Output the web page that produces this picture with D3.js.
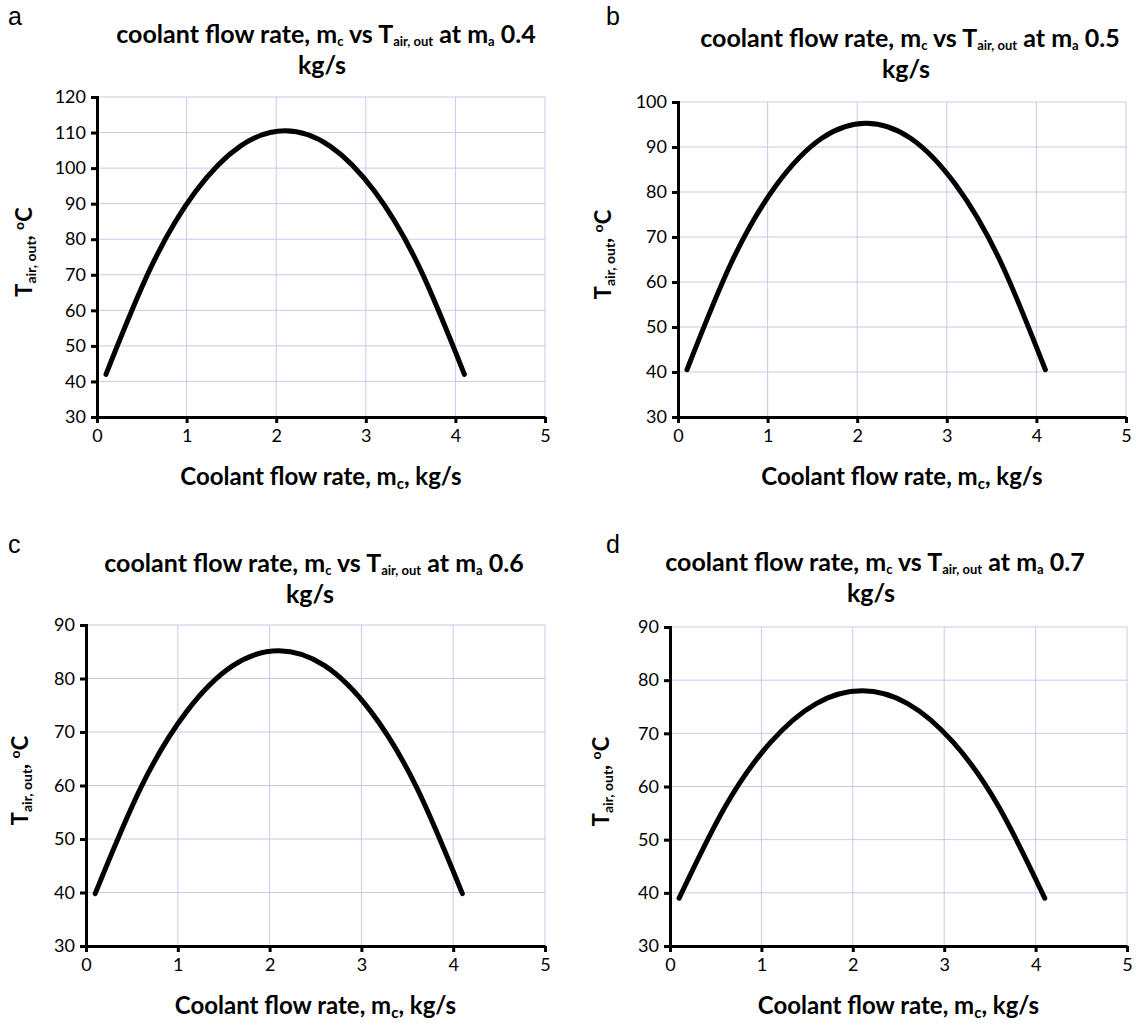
<!DOCTYPE html>
<html>
<head>
<meta charset="utf-8">
<title>Coolant flow rate vs outlet air temperature</title>
<script src="https://d3js.org/d3.v7.min.js"></script>
<style>
  body { margin: 0; background: #fff; }
  svg text { font-family: Lato, "Open Sans", sans-serif; fill: #000; }
  .grid line { stroke: #c9c9ec; stroke-width: 1; }
  .axis path, .axis line { stroke: #000; stroke-width: 3; }
  .axis text { font-size: 18px; }
  .ttl { font-size: 25px; font-weight: bold; }
  .lbl { font-size: 24px; font-weight: bold; }
  .ylbl { font-size: 22px; font-weight: bold; }
  .letter { font-family: "Liberation Sans", Arial, sans-serif; font-size: 25px; }
</style>
</head>
<body>
<div id="chart"></div>
<script>
  // data
  const flowRate = [0.1, 0.6, 1.1, 1.6, 2.1, 2.6, 3.1, 3.6, 4.1];
  const tempA = [42, 72, 93.4, 106.2, 110.5, 106.2, 93.4, 72, 42];
  const tempB = [40.5, 64.5, 81.6, 91.9, 95.3, 91.9, 81.6, 64.5, 40.5];
  const tempC = [39.8, 59.7, 73.9, 82.4, 85.2, 82.4, 73.9, 59.7, 39.8];
  const tempD = [39, 56.1, 68.3, 75.6, 78, 75.6, 68.3, 56.1, 39];
  const xTicks = [0, 1, 2, 3, 4, 5];
  const yTicksA = [30, 40, 50, 60, 70, 80, 90, 100, 110, 120];
  const yTicksB = [30, 40, 50, 60, 70, 80, 90, 100];
  const yTicksCD = [30, 40, 50, 60, 70, 80, 90];
  const massAir = ["0.4", "0.5", "0.6", "0.7"];
  const letters = ["a", "b", "c", "d"];

  const panels = [
    { temp: tempA, yTicks: yTicksA, left: 97, right: 545, top: 97, bottom: 417, ox: 0, oy: 0, titleX: 326, titleY: 43, labelX: 23 },
    { temp: tempB, yTicks: yTicksB, left: 678, right: 1126, top: 102, bottom: 417, ox: 598, oy: 0, titleX: 910, titleY: 47, labelX: 602 },
    { temp: tempC, yTicks: yTicksCD, left: 86, right: 545, top: 625, bottom: 946, ox: 0, oy: 528, titleX: 314, titleY: 572, labelX: 19 },
    { temp: tempD, yTicks: yTicksCD, left: 670, right: 1127, top: 627, bottom: 946, ox: 598, oy: 528, titleX: 875, titleY: 571, labelX: 600 }
  ];

  const svg = d3.select("#chart").append("svg")
    .attr("width", 1136)
    .attr("height", 1025);

  function sub(t, s, size, shift) {
    t.append("tspan").attr("font-size", size).attr("dy", shift).text(s);
    return t.append("tspan").attr("dy", -shift);
  }

  panels.forEach((p, i) => {
    const g = svg.append("g");

    const x = d3.scaleLinear().domain([0, 5]).range([p.left, p.right]);
    const y = d3.scaleLinear().domain(d3.extent(p.yTicks)).range([p.bottom, p.top]);

    // gridlines
    const grid = g.append("g").attr("class", "grid");
    grid.selectAll(".v").data(xTicks.slice(1)).join("line")
      .attr("x1", d => x(d)).attr("x2", d => x(d))
      .attr("y1", p.top).attr("y2", p.bottom);
    grid.selectAll(".h").data(p.yTicks.slice(1)).join("line")
      .attr("x1", p.left).attr("x2", p.right)
      .attr("y1", d => y(d)).attr("y2", d => y(d));

    // axes
    g.append("g").attr("class", "axis")
      .attr("transform", `translate(0,${p.bottom})`)
      .call(d3.axisBottom(x).tickValues(xTicks).tickFormat(d3.format("d")).tickSize(6).tickSizeOuter(0).tickPadding(6));
    g.append("g").attr("class", "axis")
      .attr("transform", `translate(${p.left},0)`)
      .call(d3.axisLeft(y).tickValues(p.yTicks).tickFormat(d3.format("d")).tickSize(6).tickSizeOuter(6).tickPadding(5));

    // curve
    const line = d3.line()
      .x((d, j) => x(flowRate[j]))
      .y(d => y(d))
      .curve(d3.curveNatural);
    g.append("path")
      .datum(p.temp)
      .attr("fill", "none")
      .attr("stroke", "#000")
      .attr("stroke-width", 5)
      .attr("stroke-linecap", "round")
      .attr("d", line);

    // panel letter
    g.append("text").attr("class", "letter")
      .attr("x", p.ox + 8).attr("y", p.oy + 25)
      .text(letters[i]);

    // title
    const t = g.append("text").attr("class", "ttl")
      .attr("x", p.titleX).attr("y", p.titleY)
      .attr("text-anchor", "middle");
    t.append("tspan").text("coolant flow rate, m");
    sub(t, "c", 13, 3).text(" vs T");
    sub(t, "air, out", 13, 3).text(" at m");
    sub(t, "a", 13, 3).text(" " + massAir[i]);
    g.append("text").attr("class", "ttl")
      .attr("x", p.titleX - 4).attr("y", p.titleY + 31)
      .attr("text-anchor", "middle")
      .text("kg/s");

    // x label
    const xl = g.append("text").attr("class", "lbl")
      .attr("x", (p.left + p.right) / 2).attr("y", p.bottom + 68)
      .attr("text-anchor", "middle");
    xl.append("tspan").text("Coolant flow rate, m");
    sub(xl, "c", 15, 4).text(", kg/s");

    // y label
    const cy = (p.top + p.bottom) / 2 - 5;
    const yl = g.append("text").attr("class", "ylbl")
      .attr("transform", `translate(${p.labelX + 9},${cy}) rotate(-90)`)
      .attr("text-anchor", "middle");
    yl.append("tspan").text("T");
    sub(yl, "air, out", 14, 4).text(", ");
    yl.append("tspan").attr("font-size", 14).attr("dy", -8).text("o");
    yl.append("tspan").attr("dy", 8).text("C");
  });
</script>
</body>
</html>
